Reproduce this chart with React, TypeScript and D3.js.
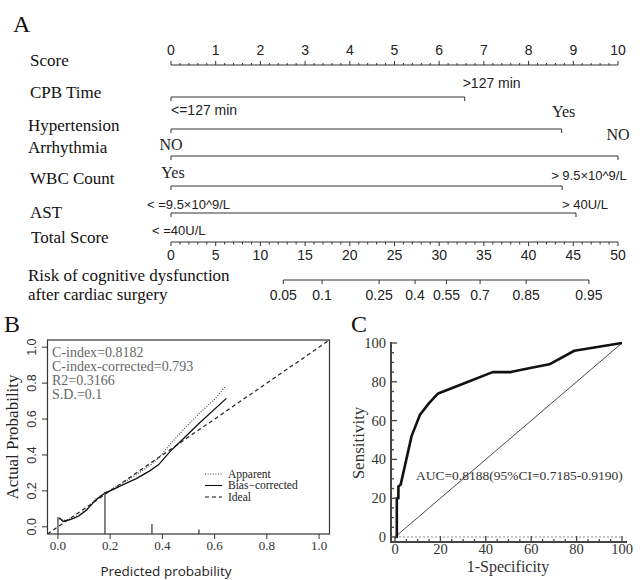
import React from "react";
import * as d3 from "d3";

// ---- Panel A: nomogram ----
const scoreTicks = [0, 1, 2, 3, 4, 5, 6, 7, 8, 9, 10];
const totalTicks = [0, 5, 10, 15, 20, 25, 30, 35, 40, 45, 50];
const predictors = ["CPB Time", "Hypertension", "Arrhythmia", "WBC Count", "AST"];
const predictorPoints = [6.57, 8.74, 10, 8.75, 9.06];
const riskTicks = [0.05, 0.1, 0.25, 0.4, 0.55, 0.7, 0.85, 0.95];
const riskRange = [0.05, 0.95];
const riskRangeTotal = [12.56, 46.75]; // total score where risk = 0.05 and 0.95

// ---- Panel B: calibration ----
const calTicks = [0, 0.2, 0.4, 0.6, 0.8, 1.0];
const apparentPred = [0.005, 0.02, 0.05, 0.08, 0.11, 0.145, 0.18, 0.2, 0.25, 0.3, 0.35, 0.385, 0.43, 0.48, 0.54, 0.6, 0.64];
const apparentObs = [0.045, 0.035, 0.045, 0.065, 0.1, 0.155, 0.19, 0.205, 0.245, 0.29, 0.34, 0.38, 0.46, 0.54, 0.63, 0.71, 0.778];
const correctedPred = [0.005, 0.02, 0.05, 0.08, 0.11, 0.145, 0.18, 0.2, 0.25, 0.3, 0.35, 0.385, 0.43, 0.48, 0.54, 0.645];
const correctedObs = [0.05, 0.03, 0.042, 0.06, 0.094, 0.15, 0.188, 0.2, 0.235, 0.268, 0.31, 0.345, 0.42, 0.49, 0.575, 0.715];
const rugPred = [0.0, 0.18, 0.36, 0.54];
const rugTop = [0.055, 0.195, 0.015, -0.015];
const calStats = ["C-index=0.8182", "C-index-corrected=0.793", "R2=0.3166", "S.D.=0.1"];
const legendItems = ["Apparent", "Bias\u2212corrected", "Ideal"];

// ---- Panel C: ROC ----
const rocTicks = [0, 20, 40, 60, 80, 100];
const rocFpr = [0, 0.8, 0.8, 1.5, 1.5, 2.5, 7.3, 11, 15, 19, 30, 43, 51, 59, 68, 79, 100];
const rocTpr = [0, 0, 20, 20, 26, 27, 52, 63, 69, 74, 79, 85, 85, 87, 89, 96, 100];

const serif = "'Liberation Serif', 'Times New Roman', serif";
const sans = "'Liberation Sans', Arial, sans-serif";
const uiSans = "'Open Sans', 'Noto Sans', sans-serif";

const logit = (p: number) => Math.log(p / (1 - p));

export default function App() {
  // nomogram scales
  const xScore = d3.scaleLinear().domain([0, 10]).range([171, 618]);
  const xTotal = d3.scaleLinear().domain([0, 50]).range([171, 618]);
  const riskToTotal = d3.scaleLinear().domain(riskRange.map(logit)).range(riskRangeTotal);
  const xRisk = (p: number) => xTotal(riskToTotal(logit(p)));
  const scoreMinor = d3.range(0, 50.5, 1).map((d) => d / 5);
  const totalMinor = d3.range(0, 51, 1);

  const lineY = [97, 129, 156, 186, 213];
  const nameY = [98, 131, 153, 184, 218];

  // calibration scales
  const xCal = d3.scaleLinear().domain([-0.04, 1.04]).range([47.5, 329.5]);
  const yCal = d3.scaleLinear().domain([-0.04, 1.04]).range([534, 340]);
  const calLine = d3
    .line<[number, number]>()
    .x((d) => xCal(d[0]))
    .y((d) => yCal(d[1]));
  const apparent = apparentPred.map((p, i) => [p, apparentObs[i]] as [number, number]);
  const corrected = correctedPred.map((p, i) => [p, correctedObs[i]] as [number, number]);

  // ROC scales
  const xRoc = d3.scaleLinear().domain([0, 100]).range([395, 622]);
  const yRoc = d3.scaleLinear().domain([0, 100]).range([537, 343]);
  const rocLine = d3
    .line<[number, number]>()
    .x((d) => xRoc(d[0]))
    .y((d) => yRoc(d[1]));
  const roc = rocFpr.map((f, i) => [f, rocTpr[i]] as [number, number]);
  const rocMinor = d3.range(0, 101, 5);

  const ink = "#333";

  return (
    <svg
      width={640}
      height={580}
      style={{ position: "absolute", left: 0, top: 0, background: "#fff" }}
    >
      {/* ================= A ================= */}
      <text x={13} y={32} fontFamily={serif} fontSize={24} fill="#111">A</text>

      {/* variable names */}
      <g fontFamily={serif} fontSize={17} fill="#111">
        <text x={30} y={66}>Score</text>
        {predictors.map((p, i) => (
          <text key={p} x={i === 1 || i === 2 ? 28 : 30} y={nameY[i]}>{p}</text>
        ))}
        <text x={31} y={243}>Total Score</text>
        <text x={28} y={281}>Risk of cognitive dysfunction</text>
        <text x={28} y={300}>after cardiac surgery</text>
      </g>

      {/* score axis */}
      <g stroke={ink} strokeWidth={1}>
        <line x1={xScore(0)} x2={xScore(10)} y1={65} y2={65} />
        {scoreMinor.map((d) => (
          <line key={d} x1={xScore(d)} x2={xScore(d)} y1={65} y2={Math.abs(d - Math.round(d)) < 1e-6 ? 61 : 63} />
        ))}
      </g>
      <g fontFamily={sans} fontSize={14} fill="#222" textAnchor="middle">
        {scoreTicks.map((d) => (
          <text key={d} x={xScore(d)} y={55}>{d}</text>
        ))}
      </g>

      {/* predictor lines */}
      <g stroke={ink} strokeWidth={1}>
        {predictorPoints.map((v, i) => (
          <g key={i}>
            <line x1={xScore(0)} x2={xScore(v)} y1={lineY[i]} y2={lineY[i]} />
            <line x1={xScore(0)} x2={xScore(0)} y1={lineY[i]} y2={lineY[i] + 4} />
            <line x1={xScore(v)} x2={xScore(v)} y1={lineY[i]} y2={lineY[i] + 4} />
          </g>
        ))}
      </g>

      {/* predictor level labels */}
      <g fontFamily={sans} fontSize={14} fill="#222">
        <text x={xScore(predictorPoints[0]) - 2} y={88}>&gt;127 min</text>
        <text x={xScore(0)} y={115}>&lt;=127 min</text>
      </g>
      <g fontFamily={serif} fontSize={16} fill="#222" textAnchor="middle">
        <text x={xScore(predictorPoints[1]) + 2} y={117}>Yes</text>
        <text x={xScore(predictorPoints[2])} y={140}>NO</text>
        <text x={xScore(0)} y={150}>NO</text>
        <text x={xScore(0) + 2} y={178}>Yes</text>
      </g>
      <g fontFamily={sans} fontSize={13} fill="#222">
        <text x={xScore(predictorPoints[3]) - 11} y={180}>&gt; 9.5×10^9/L</text>
        <text x={147} y={209}>&lt; =9.5×10^9/L</text>
        <text x={xScore(predictorPoints[4]) - 14} y={209}>&gt; 40U/L</text>
        <text x={152} y={235}>&lt; =40U/L</text>
      </g>

      {/* total score axis */}
      <g stroke={ink} strokeWidth={1}>
        <line x1={xTotal(0)} x2={xTotal(50)} y1={242} y2={242} />
        {totalMinor.map((d) => (
          <line key={d} x1={xTotal(d)} x2={xTotal(d)} y1={242} y2={d % 5 === 0 ? 246 : 244.5} />
        ))}
      </g>
      <g fontFamily={sans} fontSize={14} fill="#222" textAnchor="middle">
        {totalTicks.map((d) => (
          <text key={d} x={xTotal(d)} y={260}>{d}</text>
        ))}
      </g>

      {/* risk axis */}
      <g stroke={ink} strokeWidth={1}>
        <line x1={xRisk(riskTicks[0])} x2={xRisk(riskTicks[riskTicks.length - 1])} y1={280} y2={280} />
        {riskTicks.map((p) => (
          <line key={p} x1={xRisk(p)} x2={xRisk(p)} y1={280} y2={284} />
        ))}
      </g>
      <g fontFamily={sans} fontSize={14} fill="#222" textAnchor="middle">
        {riskTicks.map((p) => (
          <text key={p} x={xRisk(p)} y={300}>{p}</text>
        ))}
      </g>

      {/* ================= B ================= */}
      <text x={4} y={332} fontFamily={serif} fontSize={24} fill="#111">B</text>
      <defs>
        <clipPath id="calClip">
          <rect x={47.5} y={340} width={282} height={194} />
        </clipPath>
      </defs>
      <rect x={47.5} y={340} width={282} height={194} fill="none" stroke={ink} strokeWidth={1.2} />

      {/* ticks */}
      <g stroke={ink} strokeWidth={1}>
        {calTicks.map((d) => (
          <line key={d} x1={47.5} x2={42} y1={yCal(d)} y2={yCal(d)} />
        ))}
        {calTicks.map((d) => (
          <line key={"x" + d} x1={xCal(d)} x2={xCal(d)} y1={534} y2={539} />
        ))}
      </g>
      <g fontFamily={sans} fontSize={12.5} fill="#333" textAnchor="middle">
        {calTicks.map((d) => (
          <text key={d} transform={`translate(36,${yCal(d)}) rotate(-90)`}>{d.toFixed(1)}</text>
        ))}
      </g>
      <g fontFamily={serif} fontSize={13} fill="#333" textAnchor="middle">
        {calTicks.map((d) => (
          <text key={d} x={xCal(d)} y={550}>{d.toFixed(1)}</text>
        ))}
      </g>
      <text transform="translate(18,437) rotate(-90)" textAnchor="middle" fontFamily={serif} fontSize={17} fill="#222">
        Actual Probability
      </text>
      <text x={166} y={576} textAnchor="middle" fontFamily={uiSans} fontSize={13.5} fill="#222">
        Predicted probability
      </text>

      <g fontFamily={serif} fontSize={14} fill="#666">
        {calStats.map((s, i) => (
          <text key={s} x={52} y={357 + i * 14}>{s}</text>
        ))}
      </g>

      <g clipPath="url(#calClip)" fill="none">
        <line
          x1={xCal(-0.04)} y1={yCal(-0.04)} x2={xCal(1.04)} y2={yCal(1.04)}
          stroke="#222" strokeWidth={1.2} strokeDasharray="4 3"
        />
        <path d={calLine(apparent) || ""} stroke="#444" strokeWidth={1.2} strokeDasharray="1 1.6" />
        <path d={calLine(corrected) || ""} stroke="#111" strokeWidth={1.3} />
        {rugPred.map((p, i) => (
          <line key={p} x1={xCal(p)} x2={xCal(p)} y1={534} y2={yCal(rugTop[i])} stroke="#444" strokeWidth={1.3} />
        ))}
      </g>

      {/* legend */}
      <g fontFamily={serif} fontSize={11.5} fill="#222">
        {legendItems.map((s, i) => (
          <g key={s}>
            <line
              x1={205} x2={222} y1={474 + i * 11.5} y2={474 + i * 11.5}
              stroke={i === 0 ? "#444" : "#111"}
              strokeWidth={1.1}
              strokeDasharray={i === 0 ? "1 1.6" : i === 2 ? "4 3" : undefined}
            />
            <text x={228} y={477.5 + i * 11.5}>{s}</text>
          </g>
        ))}
      </g>

      {/* ================= C ================= */}
      <text x={351} y={332} fontFamily={serif} fontSize={24} fill="#111">C</text>

      {/* reference lines */}
      <line x1={xRoc(0)} x2={xRoc(100)} y1={yRoc(0)} y2={yRoc(0)} stroke="#777" strokeWidth={0.8} strokeDasharray="2 2" />
      <line x1={xRoc(0)} y1={yRoc(0)} x2={xRoc(100)} y2={yRoc(100)} stroke="#333" strokeWidth={0.9} />
      <path d={rocLine(roc) || ""} fill="none" stroke="#111" strokeWidth={2.6} strokeLinejoin="round" />

      {/* axes */}
      <g stroke="#444" strokeWidth={2}>
        <line x1={391} x2={391} y1={342} y2={543} />
        <line x1={390} x2={627} y1={542} y2={542} />
      </g>
      <g stroke="#444" strokeWidth={1.3}>
        {rocMinor.map((d) => (
          <line key={"y" + d} x1={391} x2={d % 20 === 0 ? 397 : 394} y1={yRoc(d)} y2={yRoc(d)} />
        ))}
        {rocMinor.map((d) => (
          <line key={"x" + d} x1={xRoc(d)} x2={xRoc(d)} y1={542} y2={d % 20 === 0 ? 536 : 539} />
        ))}
      </g>
      <g fontFamily={serif} fontSize={14.5} fill="#333" textAnchor="end">
        {rocTicks.map((d) => (
          <text key={d} x={386} y={yRoc(d) + 5}>{d}</text>
        ))}
      </g>
      <g fontFamily={serif} fontSize={14.5} fill="#333" textAnchor="middle">
        {rocTicks.map((d) => (
          <text key={d} x={xRoc(d)} y={554}>{d}</text>
        ))}
      </g>
      <text transform="translate(364,443) rotate(-90)" textAnchor="middle" fontFamily={serif} fontSize={17} fill="#333">
        Sensitivity
      </text>
      <text x={508} y={572} textAnchor="middle" fontFamily={serif} fontSize={16} fill="#333">
        1-Specificity
      </text>
      <text x={416} y={480} fontFamily={serif} fontSize={13.5} fill="#333">
        AUC=0.8188(95%CI=0.7185-0.9190)
      </text>
    </svg>
  );
}
